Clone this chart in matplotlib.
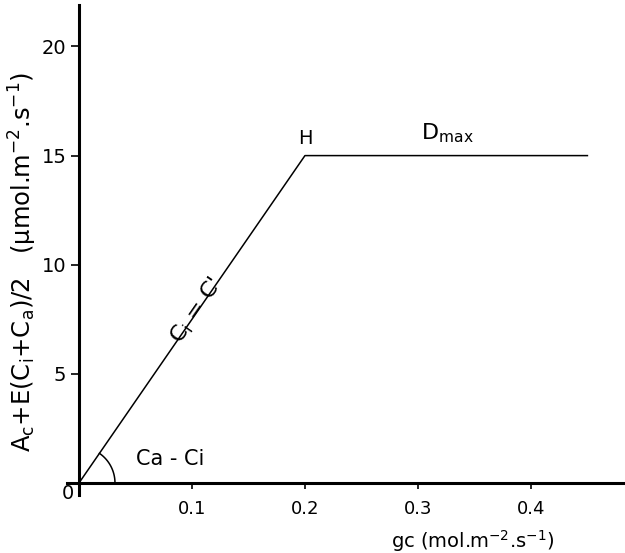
import numpy as np
import matplotlib
matplotlib.use("Agg")
import matplotlib.pyplot as plt

# data
gc = [0.0, 0.2, 0.45]
assim = [0.0, 15.0, 15.0]
xticks = [0.1, 0.2, 0.3, 0.4]
xtick_labels = ["0.1", "0.2", "0.3", "0.4"]
yticks = [5, 10, 15, 20]
ytick_labels = ["5", "10", "15", "20"]

plt.rcParams.update({'font.family': 'DejaVu Sans', 'font.size': 13,
                     'mathtext.default': 'regular'})

fig = plt.figure(figsize=(6.25, 5.53), dpi=100)
# axes box in pixels: left 67, right 623, bottom 495, top 5
ax = fig.add_axes([67 / 625, (553 - 495) / 553, 556 / 625, 490 / 553])
ax.set_xlim(-0.0106, 0.4815)
ax.set_ylim(-0.55, 21.9)

ax.plot(gc, assim, color='black', lw=1.1)

# spines through the origin
for s in ['top', 'right']:
    ax.spines[s].set_visible(False)
ax.spines['left'].set_position(('data', 0))
ax.spines['bottom'].set_position(('data', 0))
ax.spines['left'].set_linewidth(2.2)
ax.spines['bottom'].set_linewidth(2.2)

ax.set_xticks(xticks)
ax.set_xticklabels(xtick_labels)
ax.set_yticks(yticks)
ax.set_yticklabels(ytick_labels, fontsize=14)
ax.tick_params(axis='x', direction='out', length=4, width=1.2, pad=8)
ax.tick_params(axis='y', direction='out', length=6, width=1.2, pad=3)
ax.text(-0.004, -0.5, "0", ha='right', va='center', fontsize=14)

# angle arc between the x axis and the rising line
r_px = 36
slope_px = (assim[1] * 21.8) / (gc[1] * 1130)
theta = np.linspace(0, np.arctan(slope_px), 50)
ax.plot(r_px / 1130 * np.cos(theta), r_px / 21.8 * np.sin(theta), color='black', lw=1.1)
ax.text(0.081, 1.1, "Ca - Ci", ha='center', va='center', fontsize=15)

ang = np.degrees(np.arctan(slope_px))
ax.text(0.104, 7.9, "$C_i$ = C'", rotation=ang, ha='center', va='center', fontsize=16)
ax.text(gc[1], assim[1] + 0.35, "H", ha='center', va='bottom', fontsize=14)
ax.text(0.326, assim[1] + 0.5, "$D_{max}$", ha='center', va='bottom', fontsize=16)

ax.set_xlabel("gc (mol.m$^{-2}$.s$^{-1}$)", fontsize=14)
ax.xaxis.set_label_coords(0.73, -0.068)
ax.set_ylabel("$A_c$+E($C_i$+$C_a$)/2   ($\\mu$mol.m$^{-2}$.s$^{-1}$)", fontsize=17.5)
ax.yaxis.set_label_coords(-0.05, 0.475)

fig.savefig("out.png", dpi=100)
